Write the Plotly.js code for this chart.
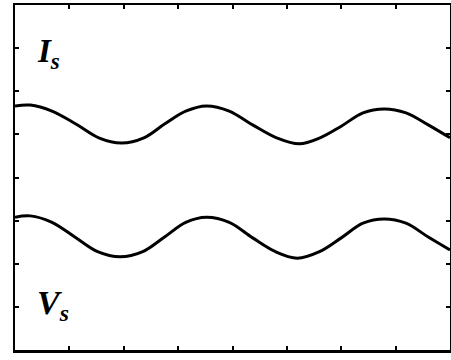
<!DOCTYPE html>
<html>
<head>
<meta charset="utf-8">
<script src="https://cdn.plot.ly/plotly-3.0.1.min.js"></script>
<style>
  html, body { margin: 0; padding: 0; background: #ffffff; }
  #chart { width: 451px; height: 360px; }
</style>
</head>
<body>
<div id="chart"></div>
<script>
// Time positions (in tick divisions) for the sampled waveforms
const timeIs = [0.00, 0.28, 0.68, 1.12, 1.54, 1.96, 2.37, 2.75, 3.14, 3.52, 3.94, 4.37, 4.81, 5.23, 5.61, 6.00, 6.40, 6.79, 7.19, 7.60, 8.00];
const valueIs = [5.66, 5.68, 5.54, 5.24, 4.92, 4.80, 4.92, 5.24, 5.54, 5.66, 5.54, 5.22, 4.92, 4.78, 4.92, 5.19, 5.50, 5.59, 5.50, 5.22, 4.92];

const timeVs = [0.00, 0.28, 0.68, 1.10, 1.52, 1.93, 2.35, 2.75, 3.14, 3.52, 3.94, 4.37, 4.79, 5.19, 5.60, 6.00, 6.40, 6.79, 7.19, 7.60, 8.00];
const valueVs = [3.08, 3.11, 2.96, 2.62, 2.28, 2.16, 2.28, 2.62, 2.96, 3.08, 2.96, 2.60, 2.28, 2.13, 2.28, 2.60, 2.94, 3.04, 2.94, 2.62, 2.32];

// Waveform labels
const labelIs = "<b><i>I</i></b><sub><b><i>s</i></b></sub>";
const labelVs = "<b><i>V</i></b><sub><b><i>s</i></b></sub>";

const lineStyle = { color: "#000000", width: 3, shape: "spline", smoothing: 1.0 };

const traces = [
  { x: timeIs, y: valueIs, mode: "lines", line: lineStyle, hoverinfo: "skip" },
  { x: timeVs, y: valueVs, mode: "lines", line: lineStyle, hoverinfo: "skip" }
];

const axisCommon = {
  showgrid: false,
  zeroline: false,
  showline: true,
  linecolor: "#000000",
  linewidth: 2.5,
  mirror: "ticks",
  ticks: "inside",
  ticklen: 4,
  tickwidth: 2,
  tickcolor: "#000000",
  dtick: 1,
  tick0: 0,
  showticklabels: false,
  fixedrange: true
};

const labelFont = "Liberation Serif, Times New Roman, serif";

const layout = {
  width: 451,
  height: 360,
  margin: { l: 15, r: 1, t: 5, b: 10 },
  paper_bgcolor: "#ffffff",
  plot_bgcolor: "#ffffff",
  showlegend: false,
  xaxis: Object.assign({}, axisCommon, { range: [0, 8] }),
  yaxis: Object.assign({}, axisCommon, { range: [0, 8] }),
  annotations: [
    {
      text: labelIs, x: 0.36, y: 6.35, xref: "x", yref: "y",
      xanchor: "left", yanchor: "bottom", showarrow: false,
      font: { family: labelFont, size: 33, color: "#000000" }
    },
    {
      text: labelVs, x: 0.36, y: 0.52, xref: "x", yref: "y",
      xanchor: "left", yanchor: "bottom", showarrow: false,
      font: { family: labelFont, size: 34, color: "#000000" }
    }
  ]
};

Plotly.newPlot("chart", traces, layout, { staticPlot: true, displayModeBar: false });
</script>
</body>
</html>
